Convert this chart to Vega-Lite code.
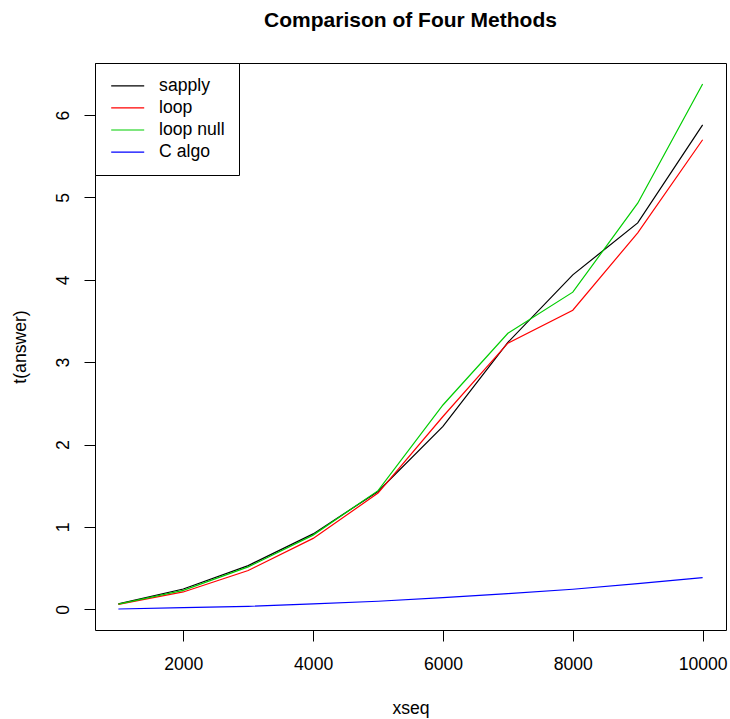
{
  "$schema": "https://vega.github.io/schema/vega-lite/v6.json",
  "width": 631,
  "height": 567,
  "autosize": {"type": "none"},
  "padding": {"left": 95, "top": 63, "right": 4, "bottom": 89},
  "background": "white",
  "title": {
    "text": "Comparison of Four Methods",
    "font": "Liberation Sans",
    "fontSize": 21,
    "fontWeight": "bold",
    "color": "black",
    "anchor": "middle",
    "frame": "group",
    "baseline": "alphabetic",
    "offset": 15
  },
  "config": {
    "font": "Liberation Sans",
    "view": {"stroke": "black", "strokeWidth": 1}
  },
  "data": {
    "values": [
      {"x": 1000, "method": "sapply", "t": 0.065},
      {"x": 2000, "method": "sapply", "t": 0.246},
      {"x": 3000, "method": "sapply", "t": 0.53},
      {"x": 4000, "method": "sapply", "t": 0.915},
      {"x": 5000, "method": "sapply", "t": 1.43},
      {"x": 6000, "method": "sapply", "t": 2.22},
      {"x": 7000, "method": "sapply", "t": 3.24},
      {"x": 8000, "method": "sapply", "t": 4.06},
      {"x": 9000, "method": "sapply", "t": 4.69},
      {"x": 10000, "method": "sapply", "t": 5.88},
      {"x": 1000, "method": "loop", "t": 0.06},
      {"x": 2000, "method": "loop", "t": 0.21},
      {"x": 3000, "method": "loop", "t": 0.47},
      {"x": 4000, "method": "loop", "t": 0.86},
      {"x": 5000, "method": "loop", "t": 1.41},
      {"x": 6000, "method": "loop", "t": 2.34},
      {"x": 7000, "method": "loop", "t": 3.23},
      {"x": 8000, "method": "loop", "t": 3.63},
      {"x": 9000, "method": "loop", "t": 4.57},
      {"x": 10000, "method": "loop", "t": 5.70},
      {"x": 1000, "method": "loop null", "t": 0.062},
      {"x": 2000, "method": "loop null", "t": 0.23},
      {"x": 3000, "method": "loop null", "t": 0.514},
      {"x": 4000, "method": "loop null", "t": 0.9},
      {"x": 5000, "method": "loop null", "t": 1.44},
      {"x": 6000, "method": "loop null", "t": 2.48},
      {"x": 7000, "method": "loop null", "t": 3.35},
      {"x": 8000, "method": "loop null", "t": 3.85},
      {"x": 9000, "method": "loop null", "t": 4.93},
      {"x": 10000, "method": "loop null", "t": 6.377},
      {"x": 1000, "method": "C algo", "t": 0.003},
      {"x": 2000, "method": "C algo", "t": 0.02},
      {"x": 3000, "method": "C algo", "t": 0.036},
      {"x": 4000, "method": "C algo", "t": 0.064},
      {"x": 5000, "method": "C algo", "t": 0.097},
      {"x": 6000, "method": "C algo", "t": 0.141},
      {"x": 7000, "method": "C algo", "t": 0.19},
      {"x": 8000, "method": "C algo", "t": 0.243},
      {"x": 9000, "method": "C algo", "t": 0.31},
      {"x": 10000, "method": "C algo", "t": 0.384}
    ]
  },
  "mark": {"type": "line", "strokeWidth": 1.2, "clip": true},
  "encoding": {
    "x": {
      "field": "x",
      "type": "quantitative",
      "scale": {"domain": [640, 10360], "nice": false, "zero": false},
      "axis": {
        "title": "xseq",
        "values": [2000, 4000, 6000, 8000, 10000],
        "format": "d",
        "grid": false,
        "domain": false,
        "tickSize": 11,
        "tickColor": "black",
        "tickWidth": 1,
        "labelFont": "Liberation Sans",
        "labelFontSize": 17.6,
        "labelColor": "black",
        "labelAlign": "center",
        "labelBaseline": "alphabetic",
        "labelPadding": 28,
        "labelOverlap": false,
        "labelFlush": false,
        "titleFont": "Liberation Sans",
        "titleFontSize": 17.6,
        "titleFontWeight": "normal",
        "titleColor": "black",
        "titleAlign": "center",
        "titleBaseline": "alphabetic",
        "titleX": 315.5,
        "titleY": 83
      }
    },
    "y": {
      "field": "t",
      "type": "quantitative",
      "scale": {"domain": [-0.252, 6.632], "nice": false, "zero": false},
      "axis": {
        "title": "t(answer)",
        "values": [0, 1, 2, 3, 4, 5, 6],
        "grid": false,
        "domain": false,
        "tickSize": 11,
        "tickColor": "black",
        "tickWidth": 1,
        "labelFont": "Liberation Sans",
        "labelFontSize": 17.6,
        "labelColor": "black",
        "labelAngle": 270,
        "labelAlign": "center",
        "labelBaseline": "alphabetic",
        "labelPadding": 16,
        "labelOverlap": false,
        "labelFlush": false,
        "titleFont": "Liberation Sans",
        "titleFontSize": 17.6,
        "titleFontWeight": "normal",
        "titleColor": "black",
        "titleAngle": 270,
        "titleAlign": "center",
        "titleBaseline": "alphabetic",
        "titleX": -70,
        "titleY": 283.5
      }
    },
    "color": {
      "field": "method",
      "type": "nominal",
      "scale": {
        "domain": ["sapply", "loop", "loop null", "C algo"],
        "range": ["#000000", "#FF0000", "#00CD00", "#0000FF"]
      },
      "legend": {
        "title": null,
        "orient": "none",
        "legendX": 0,
        "legendY": 0,
        "strokeColor": "black",
        "fillColor": "white",
        "padding": 14,
        "symbolType": "M-3,0H3",
        "symbolSize": 121,
        "symbolStrokeWidth": 1.2,
        "symbolOffset": 9.9,
        "labelOffset": 22.6,
        "labelFont": "Liberation Sans",
        "labelFontSize": 17.6,
        "labelColor": "black",
        "rowPadding": 3.1
      }
    }
  }
}
